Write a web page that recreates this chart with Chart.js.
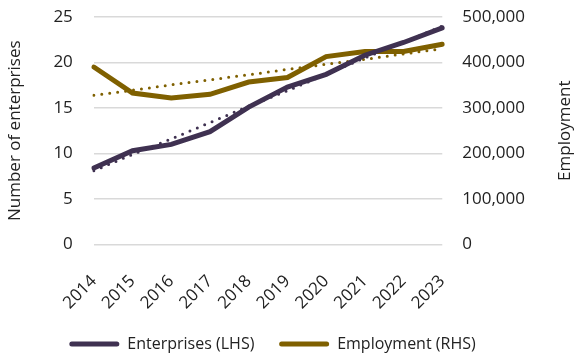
<!DOCTYPE html>
<html>
<head>
<meta charset="utf-8">
<script src="https://cdn.jsdelivr.net/npm/chart.js@4"></script>
<style>
    html, body { margin: 0; padding: 0; background: #fff; }
    #wrap { width: 574px; height: 355px; position: relative; }
</style>
</head>
<body>
<div id="wrap"><canvas id="enterprisesChart"></canvas></div>
<script>
const years = ["2014", "2015", "2016", "2017", "2018", "2019", "2020", "2021", "2022", "2023"];
const enterprises = [8.4, 10.3, 11.0, 12.4, 15.1, 17.3, 18.7, 20.8, 22.2, 23.8];
const employment = [390000, 333000, 322000, 330000, 357000, 367000, 413000, 424000, 424000, 440000];
const enterprisesTrend = [8.1, 9.9, 11.6, 13.4, 15.2, 16.9, 18.7, 20.5, 22.2, 24.0];
const employmentTrend = [328000, 339000, 351000, 362000, 373000, 385000, 396000, 407000, 419000, 430000];
const leftTicks = [0, 5, 10, 15, 20, 25];
const rightTicks = [0, 100000, 200000, 300000, 400000, 500000];

const purple = "#3f3151";
const gold = "#7f6000";
const textColor = "#222222";
const family = "'Open Sans', 'Noto Sans', sans-serif";
const font = { family, size: 17 };
const legendFont = { family, size: 16 };

// right axis title reads bottom-to-top in the original, so draw it by hand
const rightTitle = {
    id: "rightTitle",
    afterDraw(chart) {
        const { ctx, chartArea } = chart;
        ctx.save();
        ctx.translate(565, (chartArea.top + chartArea.bottom) / 2);
        ctx.rotate(-Math.PI / 2);
        ctx.font = `${font.size}px ${font.family}`;
        ctx.fillStyle = textColor;
        ctx.textAlign = "center";
        ctx.textBaseline = "middle";
        ctx.fillText("Employment", 0, 0);
        ctx.restore();
    },
};

function legendLabels(chart) {
    return Chart.defaults.plugins.legend.labels
        .generateLabels(chart)
        .map((item, i) => ({
            ...item,
            lineWidth: 0,
            // extra gap after the first entry, like the original
            text: i === 0 ? item.text + "     " : item.text,
        }));
}

// the tick padding would otherwise push the plot top down
function trimTop(axis) {
    axis.paddingTop = 17;
}

new Chart(document.getElementById("enterprisesChart"), {
    type: "line",
    data: {
        labels: years,
        datasets: [
            {
                label: "Enterprises (LHS)",
                data: enterprises,
                yAxisID: "y",
                borderColor: purple,
                backgroundColor: purple,
                borderWidth: 5,
                borderCapStyle: "round",
                pointRadius: 0,
                tension: 0,
            },
            {
                label: "Employment (RHS)",
                data: employment,
                yAxisID: "y1",
                borderColor: gold,
                backgroundColor: gold,
                borderWidth: 5,
                borderCapStyle: "round",
                pointRadius: 0,
                tension: 0,
            },
            {
                label: "trend1",
                data: enterprisesTrend,
                yAxisID: "y",
                borderColor: purple,
                borderWidth: 3,
                borderDash: [0, 8],
                borderCapStyle: "round",
                pointRadius: 0,
            },
            {
                label: "trend2",
                data: employmentTrend,
                yAxisID: "y1",
                borderColor: gold,
                borderWidth: 3,
                borderDash: [0, 8],
                borderCapStyle: "round",
                pointRadius: 0,
            },
        ],
    },
    options: {
        responsive: true,
        maintainAspectRatio: false,
        animation: false,
        layout: { padding: { top: 0, right: 29, bottom: -7, left: 0 } },
        plugins: {
            tooltip: { enabled: false },
            legend: {
                position: "bottom",
                labels: {
                    filter: (item) => !item.text.startsWith("trend"),
                    generateLabels: legendLabels,
                    color: textColor,
                    font: legendFont,
                    boxWidth: 50,
                    boxHeight: 5,
                    useBorderRadius: true,
                    borderRadius: 2.5,
                    padding: 4,
                },
            },
        },
        scales: {
            x: {
                grid: { display: false },
                border: { display: false },
                ticks: {
                    color: textColor,
                    font: { family, size: 17, lineHeight: 1 },
                    maxRotation: 45,
                    minRotation: 45,
                    padding: 20,
                },
            },
            y: {
                position: "left",
                min: 0,
                max: 25,
                afterBuildTicks: (axis) => {
                    axis.ticks = leftTicks.map((v) => ({ value: v }));
                },
                afterFit: trimTop,
                grid: { color: "#d9d9d9", lineWidth: 1.5, drawTicks: false },
                border: { display: false },
                ticks: { color: textColor, font, padding: 21 },
                title: {
                    display: true,
                    text: "Number of enterprises",
                    color: textColor,
                    font,
                    padding: { top: 5, bottom: 7 },
                },
            },
            y1: {
                position: "right",
                min: 0,
                max: 500000,
                afterBuildTicks: (axis) => {
                    axis.ticks = rightTicks.map((v) => ({ value: v }));
                },
                afterFit: trimTop,
                grid: { display: false, drawTicks: false },
                border: { display: false },
                ticks: {
                    color: textColor,
                    font,
                    padding: 20,
                    callback: (v) => v.toLocaleString("en-US"),
                },
            },
        },
    },
    plugins: [rightTitle],
});
</script>
</body>
</html>
